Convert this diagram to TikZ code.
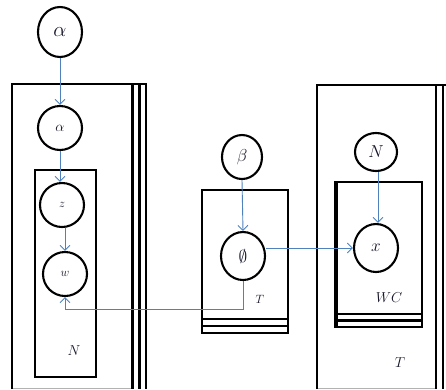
\documentclass[tikz,border=0pt]{standalone}
\usetikzlibrary{shapes.geometric,arrows.meta}
\definecolor{arrblue}{RGB}{79,129,189}
\definecolor{txt}{RGB}{20,20,40}
\begin{document}
\begin{tikzpicture}[x=1pt,y=-1pt,
  var/.style={draw=black,line width=2.1pt,ellipse,inner sep=0pt,fill=white,text=txt},
  box/.style={draw=black,line width=2.1pt},
  arr/.style={draw=arrblue,line width=0.9pt,-{Straight Barb[length=5pt,width=10pt,line width=0.9pt]}},
  lbl/.style={text=txt,inner sep=0pt}]
\useasboundingbox (0,0) rectangle (446,389);
% left outer plate
\draw[box] (12,389) -- (12,84) -- (146,84) -- (146,389);
\draw[box] (132.5,84) -- (132.5,389);
\draw[box] (139.5,84) -- (139.5,389);
\draw[gray!60,line width=0.8pt] (13,388) -- (131,388);
% inner N plate
\draw[box] (35,170) rectangle (96,377);
% middle T plate
\draw[box] (202,190) -- (202,333) -- (288,333) -- (288,190) -- cycle;
\draw[box] (202,319) -- (288,319);
\draw[box] (202,326) -- (288,326);
% right outer plate
\draw[box] (317,389) -- (317,85) -- (446,85);
\draw[box] (436,85) -- (436,389);
\draw[box] (443,85) -- (443,389);
\draw[gray!60,line width=0.8pt] (318,388) -- (435,388);
% WC plate
\draw[box] (335,182) -- (335,327) -- (422,327) -- (422,182) -- cycle;
\draw[black,line width=3.4pt] (336.5,182) -- (336.5,327);
\draw[box] (335,314) -- (422,314);
\draw[box] (335,320.5) -- (422,320.5);
% nodes
\node[var,minimum width=44pt,minimum height=50pt,font=\fontsize{20}{20}\selectfont] (a1) at (60,32) {$\alpha$};
\node[var,minimum width=44pt,minimum height=44pt,font=\fontsize{15}{15}\selectfont] (a2) at (60,128) {$\alpha$};
\node[var,minimum width=44pt,minimum height=44pt,font=\fontsize{13}{13}\selectfont] (z) at (62,205) {$z$};
\node[var,minimum width=44pt,minimum height=44pt,font=\fontsize{13}{13}\selectfont] (w) at (65,274) {$w$};
\node[var,minimum width=40pt,minimum height=44pt,font=\fontsize{18}{18}\selectfont] (beta) at (242,157) {$\beta$};
\node[var,minimum width=44pt,minimum height=48pt,font=\fontsize{16}{16}\selectfont] (phi) at (243,256) {$\emptyset$};
\node[var,minimum width=42pt,minimum height=38pt,font=\fontsize{16}{16}\selectfont] (Nr) at (376,152) {$N$};
\node[var,minimum width=44pt,minimum height=48pt,font=\fontsize{16}{16}\selectfont] (x) at (376,248) {$x$};
% labels
\node[lbl,font=\fontsize{14}{14}\selectfont] (lN) at (74,351) {$N$};
\node[lbl,font=\fontsize{13}{13}\selectfont] (lT1) at (260,299) {$T$};
\node[lbl,font=\fontsize{14}{14}\selectfont] (lWC) at (389,298) {$WC$};
\node[lbl,font=\fontsize{14}{14}\selectfont] (lT2) at (400,363) {$T$};
% connectors
\coordinate (turn) at (243,309);
\draw[arr] (a1.south) -- (a2.north);
\draw[arr] (a2.south) -- (a2.south |- z.north);
\draw[arr] (z.south -| w.north) -- (w.north);
\draw[arr] (beta.south) -- (phi.north);
\draw[arr] (phi.south) -- (phi.south |- turn) -- (w.south |- turn) -- (w.south);
\draw[arr] (x.west -| phi.east) -- (x.west);
\draw[arr] (Nr.south -| 378,0) -- (x.north -| 378,0);
\end{tikzpicture}
\end{document}
